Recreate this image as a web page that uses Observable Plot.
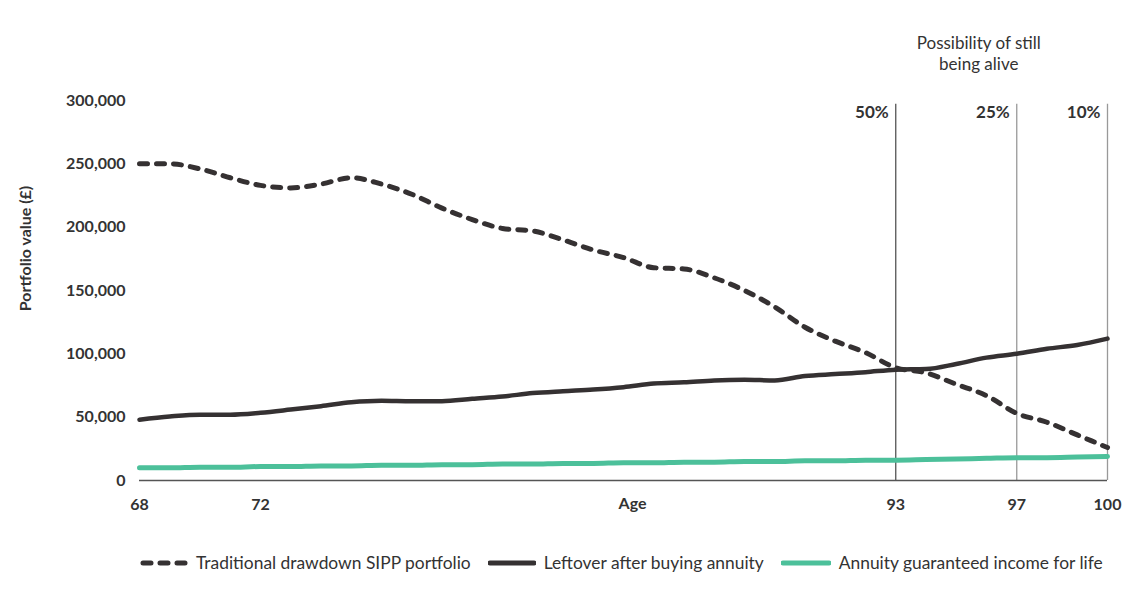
<!DOCTYPE html>
<html>
<head>
<meta charset="utf-8">
<script src="https://cdn.jsdelivr.net/npm/d3@7"></script>
<script src="https://cdn.jsdelivr.net/npm/@observablehq/plot@0.6"></script>
<style>
  html, body { margin: 0; padding: 0; background: #fff; }
  body { width: 1140px; font-family: Lato, "Open Sans", sans-serif; color: #333; }
  #legend { display: flex; align-items: center; margin-left: 140px; margin-top: 22px; font-size: 17.4px; color: #333; }
  #legend .item { display: flex; align-items: center; margin-right: 17px; }
  #legend svg { margin-right: 8px; }
</style>
</head>
<body>
<div id="chart"></div>
<div id="legend"></div>
<script>
const ages = [68,69,70,71,72,73,74,75,76,77,78,79,80,81,82,83,84,85,86,87,88,89,90,91,92,93,94,95,96,97,98,99,100];
const drawdown = [250000,250000,246000,239000,233000,231000,234000,239000,234000,226000,215000,206000,199000,197000,190000,182000,176000,168000,167000,160000,150000,137000,121000,110000,101000,89000,85000,76000,67000,53000,46000,36000,26000];
const leftover = [48000,50500,52000,52000,53500,56000,58700,61800,63000,62600,62600,64500,66300,69000,70500,71800,73700,76500,77500,79000,79500,79000,82500,84000,85500,87500,88000,92000,97000,100000,104000,107000,112000];
const annuity = [10000,10000,10500,10500,11000,11000,11500,11500,12000,12000,12500,12500,13000,13000,13500,13500,14000,14000,14500,14500,15000,15000,15500,15500,16000,16000,16500,17000,17500,18000,18000,18500,19000];
const xTicks = [68,72,93,97,100];
const yTicks = [0,50000,100000,150000,200000,250000,300000];
const markerAges = [93,97,100];
const markerLabels = ["50%","25%","10%"];
const seriesNames = ["Traditional drawdown SIPP portfolio","Leftover after buying annuity","Annuity guaranteed income for life"];

const dark = "#353132";
const green = "#4cc09a";

const rows = (vals) => ages.map((a, i) => ({age: a, value: vals[i]}));
const markers = markerAges.map((a, i) => ({age: a, label: markerLabels[i]}));

const chart = Plot.plot({
  width: 1140,
  height: 530,
  marginLeft: 139,
  marginRight: 33,
  marginTop: 100,
  marginBottom: 50,
  style: {fontFamily: "Lato, 'Open Sans', sans-serif", color: "#333", background: "#fff"},
  x: {domain: [68, 100]},
  y: {domain: [0, 300000]},
  marks: [
    Plot.ruleX(markers, {x: "age", y1: 0, y2: 297000, stroke: (d) => d.age === 93 ? "#555" : "#999", strokeWidth: 1.3}),
    Plot.text(markers, {x: "age", y: 297000, text: "label", textAnchor: "end", dx: -7, dy: 8, fontWeight: "bold", fontSize: 17, fill: "#333"}),
    Plot.text(["Possibility of still\nbeing alive"], {x: 97, frameAnchor: "top", dx: -38, dy: -67, fontSize: 17, fill: "#333", lineHeight: 1.25, lineAnchor: "top", textAnchor: "middle"}),
    Plot.axisY({ticks: yTicks, tickSize: 0, tickPadding: 14, tickFormat: d3.format(","), fontWeight: "bold", fontSize: 16, label: null}),
    Plot.axisX({ticks: xTicks, tickSize: 0, tickPadding: 18, tickFormat: (d) => String(d), fontWeight: "bold", fontSize: 16, label: null}),
    Plot.text(["Age"], {x: 84.3, frameAnchor: "bottom", dy: 28, fontWeight: "bold", fontSize: 16, fill: "#333", textAnchor: "middle"}),
    Plot.text(["Portfolio value (£)"], {frameAnchor: "left", dx: -114, dy: -42, rotate: -90, textAnchor: "middle", fontWeight: "bold", fontSize: 16, fill: "#333"}),
    Plot.ruleY([0], {stroke: "#555", strokeWidth: 1.5}),
    Plot.line(rows(annuity), {x: "age", y: "value", stroke: green, strokeWidth: 5, curve: "monotone-x"}),
    Plot.line(rows(leftover), {x: "age", y: "value", stroke: dark, strokeWidth: 4.5, curve: "monotone-x"}),
    Plot.line(rows(drawdown), {x: "age", y: "value", stroke: dark, strokeWidth: 5, strokeDasharray: "8,9", strokeLinecap: "round", curve: "monotone-x"})
  ]
});
document.getElementById("chart").appendChild(chart);

const legend = document.getElementById("legend");
const swatches = [
  `<svg width="48" height="10"><line x1="3" y1="5" x2="45" y2="5" stroke="${dark}" stroke-width="5" stroke-linecap="round" stroke-dasharray="8,9"/></svg>`,
  `<svg width="48" height="10"><line x1="2" y1="5" x2="46" y2="5" stroke="${dark}" stroke-width="5" stroke-linecap="round"/></svg>`,
  `<svg width="50" height="10"><line x1="2" y1="5" x2="48" y2="5" stroke="${green}" stroke-width="5" stroke-linecap="round"/></svg>`
];
seriesNames.forEach((n, i) => {
  const it = document.createElement("div");
  it.className = "item";
  it.innerHTML = swatches[i] + `<span>${n}</span>`;
  legend.appendChild(it);
});
</script>
</body>
</html>
